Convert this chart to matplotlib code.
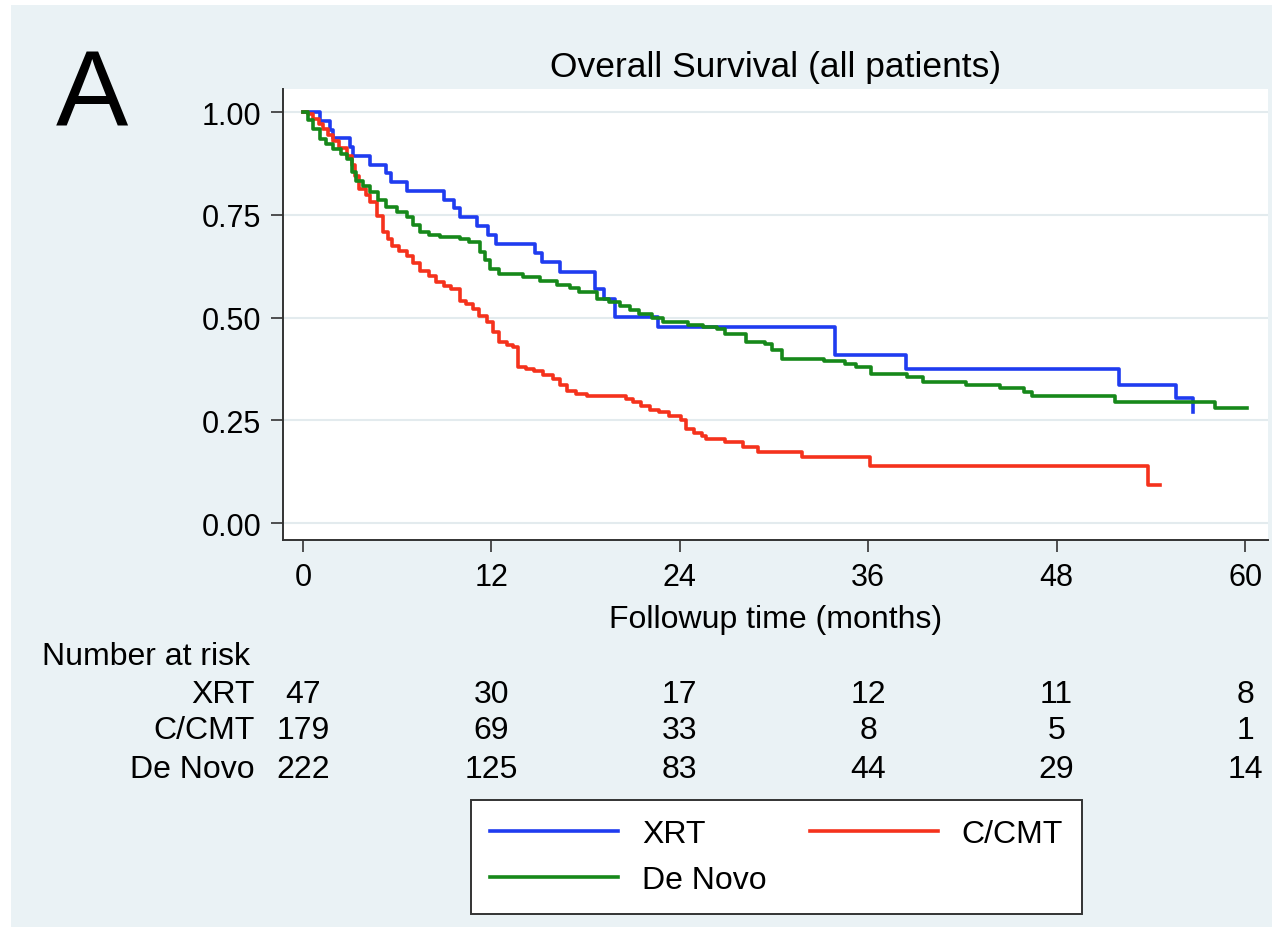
import matplotlib
matplotlib.use("Agg")
import matplotlib.pyplot as plt
import matplotlib.transforms as mtransforms
from matplotlib.patches import Rectangle

plt.rcParams['font.family'] = ['Liberation Sans', 'DejaVu Sans']

# Kaplan-Meier step data (time in months, survival)
xrt_t = [0, 1.1, 1.7, 1.9, 3.0, 3.2, 4.3, 5.3, 5.6, 6.6, 9.0, 9.6, 10.0, 11.1, 11.8,
         12.3, 14.8, 15.2, 16.4, 18.6, 19.2, 19.9, 22.6, 33.9, 38.4, 52.0, 55.6, 56.7]
xrt_s = [1.0, 0.979, 0.957, 0.936, 0.915, 0.894, 0.872, 0.851, 0.830, 0.809, 0.787, 0.766,
         0.745, 0.723, 0.702, 0.680, 0.657, 0.634, 0.611, 0.570, 0.545, 0.502, 0.477, 0.409,
         0.375, 0.336, 0.304, 0.270]

cmt_t = [0, 0.3, 0.66, 1.0, 1.3, 1.6, 1.9, 2.3, 2.8, 3.1, 3.3, 3.6, 4.0, 4.3, 4.7, 5.1,
         5.4, 5.7, 6.1, 6.6, 7.0, 7.45, 8.0, 8.5, 9.0, 9.4, 10.0, 10.4, 10.8, 11.2, 11.7,
         12.1, 12.5, 13.0, 13.4, 13.7, 14.2, 14.7, 15.3, 15.9, 16.4, 16.8, 17.4, 18.1, 20.6,
         21.0, 21.5, 22.1, 22.7, 23.3, 24.1, 24.4, 24.9, 25.4, 25.7, 26.9, 28.0, 29.0, 31.8,
         36.1, 53.8, 54.6]
cmt_s = [1.0, 0.994, 0.983, 0.972, 0.959, 0.945, 0.930, 0.912, 0.894, 0.870, 0.845, 0.813,
         0.797, 0.780, 0.748, 0.708, 0.690, 0.675, 0.662, 0.650, 0.632, 0.614, 0.600, 0.586,
         0.578, 0.569, 0.541, 0.533, 0.520, 0.505, 0.489, 0.465, 0.440, 0.434, 0.428, 0.380,
         0.375, 0.370, 0.360, 0.350, 0.335, 0.322, 0.315, 0.310, 0.302, 0.294, 0.285, 0.275,
         0.270, 0.261, 0.250, 0.230, 0.220, 0.212, 0.204, 0.197, 0.185, 0.172, 0.160, 0.139,
         0.092, 0.092]

dn_t = [0, 0.3, 0.66, 1.08, 1.5, 1.9, 2.4, 2.8, 3.1, 3.4, 3.8, 4.3, 4.8, 5.3, 6.0, 6.6,
        7.0, 7.45, 8.0, 8.7, 10.0, 10.6, 11.3, 11.6, 11.9, 12.5, 14.0, 15.1, 16.2, 17.0,
        17.6, 18.7, 19.5, 20.2, 20.8, 21.4, 22.2, 22.9, 24.5, 25.5, 26.4, 26.9, 28.2, 29.4,
        29.9, 30.5, 33.2, 34.5, 35.2, 36.2, 38.5, 39.5, 42.2, 44.4, 45.9, 46.4, 51.7, 58.1,
        60.1]
dn_s = [1.0, 0.980, 0.959, 0.934, 0.922, 0.910, 0.898, 0.886, 0.854, 0.833, 0.820, 0.805,
        0.787, 0.768, 0.756, 0.744, 0.726, 0.708, 0.702, 0.696, 0.690, 0.683, 0.659, 0.640,
        0.618, 0.606, 0.598, 0.590, 0.580, 0.571, 0.562, 0.545, 0.537, 0.529, 0.519, 0.509,
        0.499, 0.489, 0.482, 0.477, 0.472, 0.460, 0.440, 0.435, 0.420, 0.400, 0.395, 0.388,
        0.380, 0.363, 0.355, 0.343, 0.336, 0.328, 0.318, 0.309, 0.294, 0.280, 0.280]

groups = ['XRT', 'C/CMT', 'De Novo']
colors = ['#1f3cf0', '#f5321c', '#16881a']

risk_times = [0, 12, 24, 36, 48, 60]
risk_xrt = [47, 30, 17, 12, 11, 8]
risk_cmt = [179, 69, 33, 8, 5, 1]
risk_dn = [222, 125, 83, 44, 29, 14]

W, H = 1272, 928
fig = plt.figure(figsize=(W / 100, H / 100), dpi=100, facecolor='white')
fig.patches.append(Rectangle((11 / W, 0), 1 - 11 / W, 1 - 6 / H, transform=fig.transFigure,
                             facecolor='#eaf2f5', edgecolor='none', zorder=-10))

# plot region in pixels: x 283..1268, y 90..541
ax = fig.add_axes([283 / W, 1 - 541 / H, (1268 - 283) / W, (541 - 90) / H])
ax.set_facecolor('white')

lines = []
for t, s, c, name in zip([xrt_t, cmt_t, dn_t], [xrt_s, cmt_s, dn_s], colors, groups):
    ln, = ax.step(t, s, where='post', color=c, lw=2.6, label=name)
    lines.append(ln)

ax.set_xlim(-1.27, 61.46)
ax.set_ylim(-0.041, 1.056)
ax.set_xticks(risk_times)
ax.set_yticks([0, 0.25, 0.5, 0.75, 1.0])
ax.set_yticklabels(['0.00', '0.25', '0.50', '0.75', '1.00'])
ax.yaxis.grid(True, color='#e3ebee', lw=1.5)
ax.set_axisbelow(True)
for side in ['top', 'right']:
    ax.spines[side].set_visible(False)
for side in ['left', 'bottom']:
    ax.spines[side].set_color('#333333')
    ax.spines[side].set_linewidth(1.4)
ax.tick_params(axis='both', direction='out', length=8.5, width=1.2, color='#333333',
               labelsize=22, pad=7)
ax.set_xlabel('Followup time (months)', fontsize=23, labelpad=9)
ax.set_title('Overall Survival (all patients)', fontsize=25.5, pad=9)

fig.text(92 / W, 1 - 98 / H, 'A', fontsize=78, ha='center', va='center')

# number at risk table, x positions follow the axis scale
trans = mtransforms.blended_transform_factory(ax.transData, fig.transFigure)
fig.text(42 / W, 1 - 657 / H, 'Number at risk', fontsize=23, ha='left', va='center')
row_y = [695, 731, 770]
for name, vals, py in zip(groups, [risk_xrt, risk_cmt, risk_dn], row_y):
    fig.text(255 / W, 1 - py / H, name, fontsize=23, ha='right', va='center')
    for t, v in zip(risk_times, vals):
        ax.text(t, 1 - py / H, str(v), transform=trans, fontsize=23, ha='center', va='center')

# legend fills column-wise, so order handles to get XRT, C/CMT on the first row
order = [0, 2, 1]
leg = fig.legend(handles=[lines[i] for i in order], labels=[groups[i] for i in order],
                 ncol=2, loc='lower left',
                 bbox_to_anchor=(471 / W, 1 - 915 / H, 611 / W, 110 / H), mode='expand',
                 borderaxespad=0, fontsize=23, handlelength=4.0, handletextpad=0.75,
                 labelspacing=0.5, borderpad=0.6, columnspacing=2.5, fancybox=False,
                 framealpha=1, edgecolor='#333333')
leg.get_frame().set_linewidth(1.4)

fig.savefig('out.png', dpi=100, facecolor=fig.get_facecolor())
